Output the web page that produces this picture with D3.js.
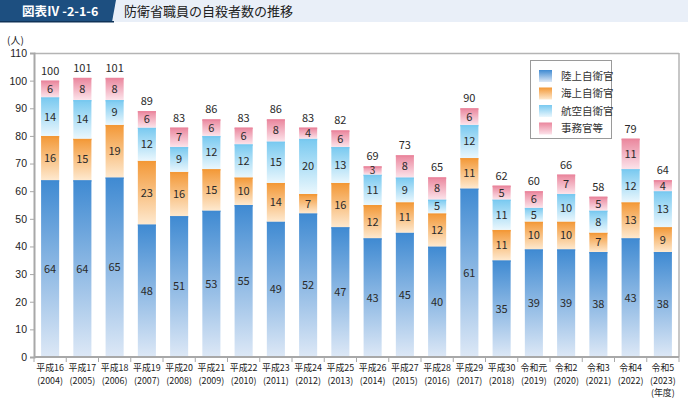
<!DOCTYPE html>
<html>
<head>
<meta charset="utf-8">
<script src="https://cdn.jsdelivr.net/npm/d3@7"></script>
<style>
  html, body { margin: 0; padding: 0; background: #fff; }
  svg { display: block; font-family: "Noto Sans CJK JP", "Noto Sans", sans-serif; }
</style>
</head>
<body>
<div id="chart"></div>
<script>
var eras = ["平成16", "平成17", "平成18", "平成19", "平成20", "平成21", "平成22", "平成23", "平成24", "平成25",
  "平成26", "平成27", "平成28", "平成29", "平成30", "令和元", "令和2", "令和3", "令和4", "令和5"];
var years = ["2004", "2005", "2006", "2007", "2008", "2009", "2010", "2011", "2012", "2013",
  "2014", "2015", "2016", "2017", "2018", "2019", "2020", "2021", "2022", "2023"];

var gsdf = [64, 64, 65, 48, 51, 53, 55, 49, 52, 47, 43, 45, 40, 61, 35, 39, 39, 38, 43, 38];
var msdf = [16, 15, 19, 23, 16, 15, 10, 14, 7, 16, 12, 11, 12, 11, 11, 10, 10, 7, 13, 9];
var asdf = [14, 14, 9, 12, 9, 12, 12, 15, 20, 13, 11, 9, 5, 12, 11, 5, 10, 8, 12, 13];
var civil = [6, 8, 8, 6, 7, 6, 6, 8, 4, 6, 3, 8, 8, 6, 5, 6, 7, 5, 11, 4];

var seriesNames = ["陸上自衛官", "海上自衛官", "航空自衛官", "事務官等"];
var yTicks = [0, 10, 20, 30, 40, 50, 60, 70, 80, 90, 100, 110];

function StackChart(params) {
  var attrs = Object.assign(
    {
      width: 688,
      height: 398,
      margin: { top: 53, left: 34, bottom: 41, right: 9 },
      container: "#chart",
      // [top, bottom] gradient stops per series
      colors: [
        ["#3f8ad2", "#dde8f6"],
        ["#f39836", "#fee9cf"],
        ["#78c9f0", "#eaf7fd"],
        ["#ea869d", "#fce3ea"],
      ],
    },
    params
  );

  var svg, chart, x, y, chartWidth, chartHeight, stacked;

  function main() {
    chartWidth = attrs.width - attrs.margin.left - attrs.margin.right;
    chartHeight = attrs.height - attrs.margin.top - attrs.margin.bottom;

    svg = d3
      .select(attrs.container)
      .append("svg")
      .attr("width", attrs.width)
      .attr("height", attrs.height);

    addGradients();
    drawHeader();

    x = d3.scaleBand().domain(d3.range(eras.length)).range([0, chartWidth]).paddingInner(0.44).paddingOuter(0.22);
    y = d3.scaleLinear().domain([0, 110]).range([chartHeight, 0]);

    chart = svg
      .append("g")
      .attr("transform", `translate(${attrs.margin.left}, ${attrs.margin.top})`);

    var rows = eras.map((e, i) => ({ i: i, s0: gsdf[i], s1: msdf[i], s2: asdf[i], s3: civil[i] }));
    stacked = d3.stack().keys(["s0", "s1", "s2", "s3"])(rows);

    drawFrame();
    drawBars();
    drawAxes();
    drawLegend();
  }

  function addGradients() {
    var defs = svg.append("defs");
    attrs.colors.forEach((c, k) => {
      var g = defs
        .append("linearGradient")
        .attr("id", "grad" + k)
        .attr("x1", 0).attr("y1", 0).attr("x2", 0).attr("y2", 1);
      g.append("stop").attr("offset", "0%").attr("stop-color", c[0]);
      g.append("stop").attr("offset", "100%").attr("stop-color", c[1]);
    });
  }

  function drawHeader() {
    svg.append("rect").attr("x", 0).attr("y", 0).attr("width", attrs.width).attr("height", 22).attr("fill", "#e9eff8");
    svg.append("path").attr("d", "M0,0 H116 L112,22 H0 Z").attr("fill", "#1d4f80");
    svg.append("rect").attr("x", 0).attr("y", 21).attr("width", 114).attr("height", 1.5).attr("fill", "#0f3358");
    svg
      .append("text")
      .attr("x", 22)
      .attr("y", 15.5)
      .attr("fill", "#fff")
      .attr("font-size", "12.5px")
      .attr("font-weight", "bold")
      .text("図表Ⅳ -2-1-6");
    svg
      .append("text")
      .attr("x", 124)
      .attr("y", 15.5)
      .attr("fill", "#222")
      .attr("font-size", "13px")
      .text("防衛省職員の自殺者数の推移");
  }

  function drawFrame() {
    // top border and right border
    chart.append("line").attr("x1", 0).attr("x2", chartWidth).attr("y1", 0.5).attr("y2", 0.5)
      .attr("stroke", "#b4b4b4").attr("stroke-width", 1.5);
    chart.append("line").attr("x1", chartWidth).attr("x2", chartWidth).attr("y1", 0).attr("y2", chartHeight)
      .attr("stroke", "#b4b4b4").attr("stroke-width", 1.5);
  }

  function drawBars() {
    var layers = chart
      .selectAll(".layer")
      .data(stacked)
      .enter()
      .append("g")
      .attr("class", "layer");

    layers
      .selectAll("rect")
      .data((d, k) => d.map((v) => ({ v: v, k: k })))
      .enter()
      .append("rect")
      .attr("x", (d) => x(d.v.data.i))
      .attr("y", (d) => y(d.v[1]))
      .attr("width", x.bandwidth())
      .attr("height", (d) => y(d.v[0]) - y(d.v[1]))
      .attr("fill", (d) => `url(#grad${d.k})`);

    // thin line on top of each segment
    layers
      .selectAll(".cap")
      .data((d, k) => d.map((v) => ({ v: v, k: k })))
      .enter()
      .append("rect")
      .attr("class", "cap")
      .attr("x", (d) => x(d.v.data.i))
      .attr("y", (d) => y(d.v[1]))
      .attr("width", x.bandwidth())
      .attr("height", 1.5)
      .attr("fill", (d) => attrs.colors[d.k][0])
      .attr("opacity", 0.9);

    layers
      .selectAll(".val")
      .data((d) => d)
      .enter()
      .append("text")
      .attr("class", "val")
      .attr("x", (d) => x(d.data.i) + x.bandwidth() / 2)
      .attr("y", (d) => (y(d[0]) + y(d[1])) / 2)
      .attr("dy", "0.36em")
      .attr("text-anchor", "middle")
      .attr("font-size", (d) => (d[1] - d[0] < 4 ? "10px" : "11px"))
      .attr("fill", "#2a2a2a")
      .text((d) => d[1] - d[0]);

    var top = stacked[stacked.length - 1];
    chart
      .selectAll(".total")
      .data(top)
      .enter()
      .append("text")
      .attr("class", "total")
      .attr("x", (d) => x(d.data.i) + x.bandwidth() / 2)
      .attr("y", (d) => y(d[1]) - 6)
      .attr("text-anchor", "middle")
      .attr("font-size", "11px")
      .attr("fill", "#2a2a2a")
      .text((d) => d[1]);
  }

  function drawAxes() {
    var yAxis = chart
      .append("g")
      .call(d3.axisLeft(y).tickValues(yTicks).tickSize(4).tickPadding(3));
    yAxis.select(".domain").attr("stroke", "#a8a8a8").attr("stroke-width", 2);
    yAxis.selectAll(".tick line").attr("stroke", "#a8a8a8");
    yAxis.selectAll("text").attr("font-size", "10.5px").attr("fill", "#222").attr("font-family", null);

    svg
      .append("text")
      .attr("x", 7)
      .attr("y", 44)
      .attr("font-size", "10px")
      .attr("fill", "#222")
      .text("(人)");

    var xAxis = chart.append("g").attr("transform", `translate(0, ${chartHeight})`);
    xAxis.append("line").attr("x1", 0).attr("x2", chartWidth).attr("stroke", "#a8a8a8").attr("stroke-width", 2);
    xAxis
      .selectAll(".sep")
      .data(d3.range(eras.length + 1))
      .enter()
      .append("line")
      .attr("x1", (d) => d * (chartWidth / eras.length))
      .attr("x2", (d) => d * (chartWidth / eras.length))
      .attr("y1", 0)
      .attr("y2", 5)
      .attr("stroke", "#a8a8a8");

    var cx = (d, i) => x(i) + x.bandwidth() / 2;

    xAxis
      .selectAll(".xl")
      .data(eras)
      .enter()
      .append("text")
      .attr("class", "xl")
      .attr("x", cx)
      .attr("y", 13.5)
      .attr("text-anchor", "middle")
      .attr("font-size", "8.9px")
      .attr("fill", "#222")
      .text((d) => d);

    xAxis
      .selectAll(".yl")
      .data(years)
      .enter()
      .append("text")
      .attr("class", "yl")
      .attr("x", cx)
      .attr("y", 26.5)
      .attr("text-anchor", "middle")
      .attr("font-size", "8.9px")
      .attr("fill", "#222")
      .text((d) => "(" + d + ")");

    xAxis
      .append("text")
      .attr("x", cx(null, eras.length - 1))
      .attr("y", 38.8)
      .attr("text-anchor", "middle")
      .attr("font-size", "8.9px")
      .attr("fill", "#222")
      .text("(年度)");
  }

  function drawLegend() {
    var lg = svg.append("g").attr("transform", "translate(530, 60)");
    lg.append("rect")
      .attr("x", 0.5).attr("y", 0.5).attr("width", 81).attr("height", 78)
      .attr("fill", "#fff").attr("stroke", "#9a9a9a");
    var item = lg
      .selectAll(".item")
      .data(seriesNames)
      .enter()
      .append("g")
      .attr("transform", (d, i) => `translate(9, ${10 + i * 17.5})`);
    item.append("rect").attr("width", 13).attr("height", 12).attr("fill", (d, i) => `url(#grad${i})`);
    item
      .append("text")
      .attr("x", 22)
      .attr("y", 6)
      .attr("dy", "0.36em")
      .attr("font-size", "10.5px")
      .attr("fill", "#333")
      .text((d) => d);
  }

  main.render = function () {
    main();
    return main;
  };

  return main;
}

StackChart({}).render();
</script>
</body>
</html>
